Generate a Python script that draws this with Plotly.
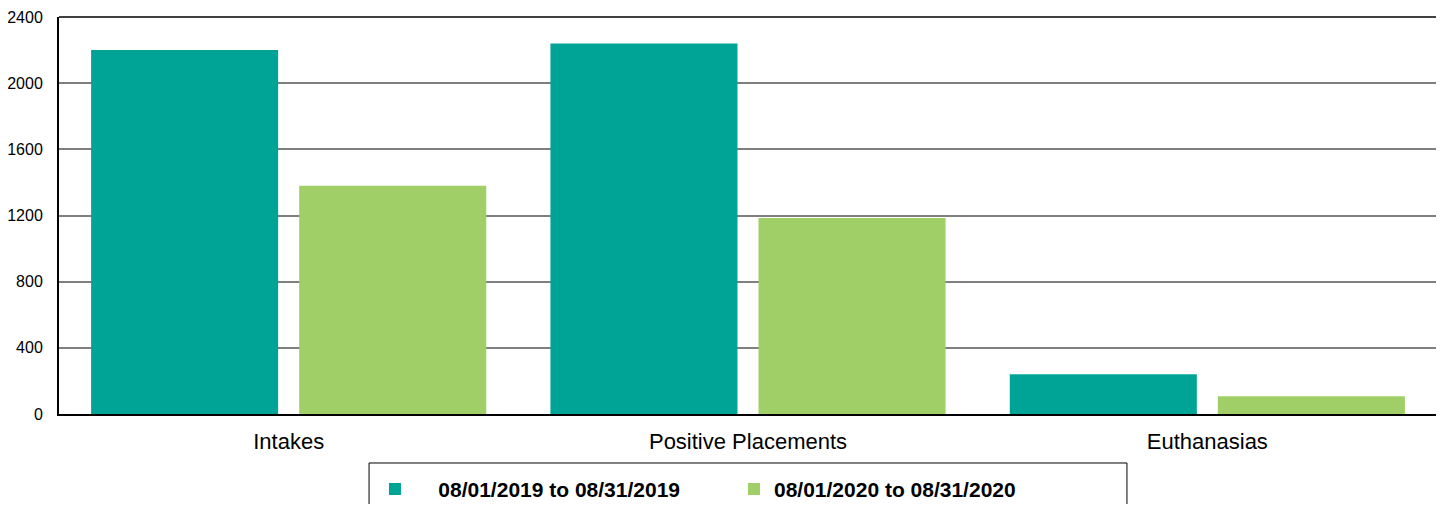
import plotly.graph_objects as go

categories = ["Intakes", "Positive Placements", "Euthanasias"]
series_names = ["08/01/2019 to 08/31/2019", "08/01/2020 to 08/31/2020"]
values_2019 = [2200, 2240, 240]
values_2020 = [1380, 1185, 107]
y_ticks = [0, 400, 800, 1200, 1600, 2000, 2400]

colors = ["#00A496", "#A1CF67"]
NB = "\u00a0"

fig = go.Figure()
fig.add_trace(go.Bar(x=categories, y=values_2019, name=NB * 4 + series_names[0],
                     marker=dict(color=colors[0], line=dict(width=0))))
fig.add_trace(go.Bar(x=categories, y=values_2020, name=series_names[1],
                     marker=dict(color=colors[1], line=dict(width=0))))

# page body has an 8px margin; figure sized so the page fits the 1444x512 window
fig.update_layout(
    width=1436, height=496,
    margin=dict(l=51, r=7, t=9, b=90, pad=0, autoexpand=False),
    paper_bgcolor="white", plot_bgcolor="white",
    barmode="group", bargap=0.094, bargroupgap=0.101,
    font=dict(family="Liberation Sans, Arial, sans-serif", color="#000000"),
    showlegend=True,
    legend=dict(orientation="h", x=0.2293, xanchor="left", y=-0.138, yanchor="top",
                font=dict(size=21, family="Liberation Sans, Arial, sans-serif", color="#000000", weight="bold"),
                bgcolor="rgba(0,0,0,0)", borderwidth=0, traceorder="normal",
                entrywidth=314, entrywidthmode="pixels"),
    xaxis=dict(showline=True, linecolor="#000000", linewidth=2, ticks="", automargin=False,
               tickfont=dict(size=22), ticklabelstandoff=7, showgrid=False),
    yaxis=dict(range=[0, 2400], tickvals=y_ticks, showline=True, linecolor="#000000", linewidth=2,
               showgrid=True, gridcolor="#7f7f7f", gridwidth=1.5, zeroline=False, ticks="",
               automargin=False, tickfont=dict(size=16), ticklabelstandoff=11),
    shapes=[
        dict(type="line", xref="paper", yref="paper", x0=0, x1=1, y0=1, y1=1,
             line=dict(color="#000000", width=1.5)),
        dict(type="line", xref="paper", yref="paper", x0=1, x1=1, y0=0, y1=1,
             line=dict(color="#555555", width=1)),
        dict(type="rect", xref="paper", yref="paper", x0=0.2250, x1=0.7750, y0=-0.35, y1=-0.1234,
             line=dict(color="#000000", width=1), fillcolor="rgba(0,0,0,0)"),
    ],
)

fig.write_html("out.html")
